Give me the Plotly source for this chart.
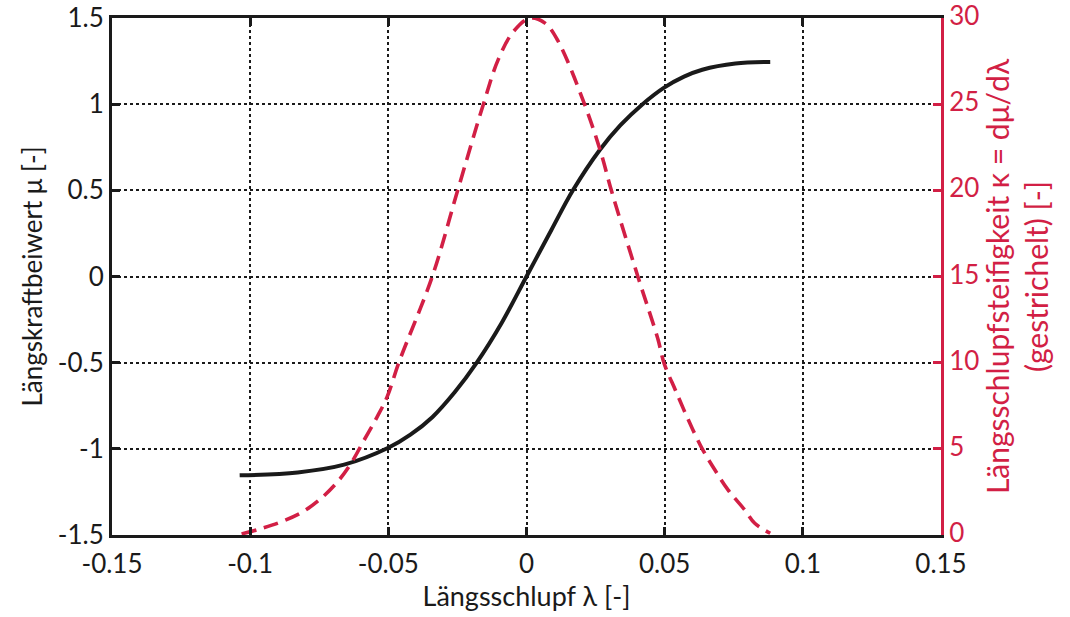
import plotly.graph_objects as go

# Black curve: Längskraftbeiwert mu vs slip lambda
mu_x = [-0.1038, -0.0828, -0.066, -0.05, -0.042, -0.034, -0.026, -0.018, -0.009, 0.0,
        0.009, 0.0168, 0.0265, 0.034, 0.042, 0.0498, 0.057, 0.0636, 0.0756, 0.0882]
mu_y = [-1.154, -1.137, -1.092, -0.994, -0.918, -0.815, -0.672, -0.5, -0.27, 0.0,
        0.27, 0.5, 0.734, 0.878, 1.0, 1.096, 1.16, 1.2, 1.236, 1.245]

# Red dashed curve: Längsschlupfsteifigkeit kappa
k_x = [-0.1031, -0.0955, -0.0887, -0.0809, -0.0743, -0.0683, -0.0635, -0.0588, -0.054,
       -0.0504, -0.0462, -0.0341, -0.0249, -0.0156, -0.0102, -0.0048, 0.0013, 0.0067,
       0.0113, 0.021, 0.027, 0.0307, 0.0403, 0.0475, 0.0498, 0.0539, 0.0586, 0.0636,
       0.0682, 0.073, 0.079, 0.0826, 0.0882]
k_y = [0.06, 0.4, 0.77, 1.35, 2.13, 3.1, 4.16, 5.5, 6.87,
       8.03, 10.0, 15.0, 20.0, 25.0, 27.6, 29.2, 30.0, 29.7,
       28.7, 25.0, 22.15, 20.0, 15.0, 11.4, 9.96, 8.4, 6.67, 5.0,
       3.77, 2.6, 1.45, 0.68, 0.1]

x_ticks = [-0.15, -0.1, -0.05, 0, 0.05, 0.1, 0.15]
x_ticklabels = ["-0.15", "-0.1", "-0.05", "0", "0.05", "0.1", "0.15"]
y_ticks = [-1.5, -1, -0.5, 0, 0.5, 1, 1.5]
y_ticklabels = ["-1.5", "-1", "-0.5", "0", "0.5", "1", "1.5"]
y2_ticks = [0, 5, 10, 15, 20, 25, 30]

RED = "#D21F45"
BLACK = "#1a1a1a"
FONT = "Lato, Open Sans, sans-serif"

fig = go.Figure()
fig.add_trace(go.Scatter(x=k_x, y=k_y, mode="lines", yaxis="y2",
                         line=dict(color=RED, width=3.6, dash="15px,8px", shape="spline",
                                   smoothing=1.0),
                         showlegend=False))
fig.add_trace(go.Scatter(x=mu_x, y=mu_y, mode="lines",
                         line=dict(color=BLACK, width=4, shape="spline", smoothing=1.0),
                         showlegend=False))

fig.update_layout(
    width=1070, height=617,
    margin=dict(l=112, r=129, t=18, b=82),
    plot_bgcolor="white", paper_bgcolor="white",
    font=dict(family=FONT, size=28, color=BLACK),
    xaxis=dict(range=[-0.15, 0.15], tickvals=x_ticks, ticktext=x_ticklabels,
               automargin=False, ticklabeloverflow="allow", ticklabelstandoff=4,
               showgrid=True, gridcolor=BLACK, gridwidth=2, griddash="dot",
               showline=True, linecolor=BLACK, linewidth=3, mirror="ticks",
               ticks="inside", ticklen=8, tickwidth=3, tickcolor=BLACK,
               tickfont=dict(size=26),
               zeroline=False,
               title=dict(text="Längsschlupf λ [-]", font=dict(size=27), standoff=2)),
    yaxis=dict(range=[-1.5, 1.5], tickvals=y_ticks, ticktext=y_ticklabels,
               automargin=False, ticklabeloverflow="allow",
               showgrid=True, gridcolor=BLACK, gridwidth=2, griddash="dot",
               showline=True, linecolor=BLACK, linewidth=3,
               ticks="inside", ticklen=8, tickwidth=3, tickcolor=BLACK,
               tickfont=dict(size=26),
               zeroline=False,
               title=dict(text="Längskraftbeiwert μ [-]", font=dict(size=26), standoff=8)),
    yaxis2=dict(range=[0, 30], tickvals=y2_ticks, overlaying="y", side="right",
                automargin=False, ticklabeloverflow="allow", ticklabelshift=-2,
                showgrid=False, zeroline=False,
                showline=True, linecolor=RED, linewidth=3,
                ticks="inside", ticklen=8, tickwidth=3, tickcolor=RED,
                tickfont=dict(color=RED, size=26),
                title=dict(text="Längsschlupfsteifigkeit κ = dμ/dλ<br>(gestrichelt) [-]",
                           font=dict(color=RED, size=30), standoff=5)),
)

fig.write_html("out.html", config={"displayModeBar": False},
               post_script="document.body.style.margin='0';document.body.style.padding='0';")
